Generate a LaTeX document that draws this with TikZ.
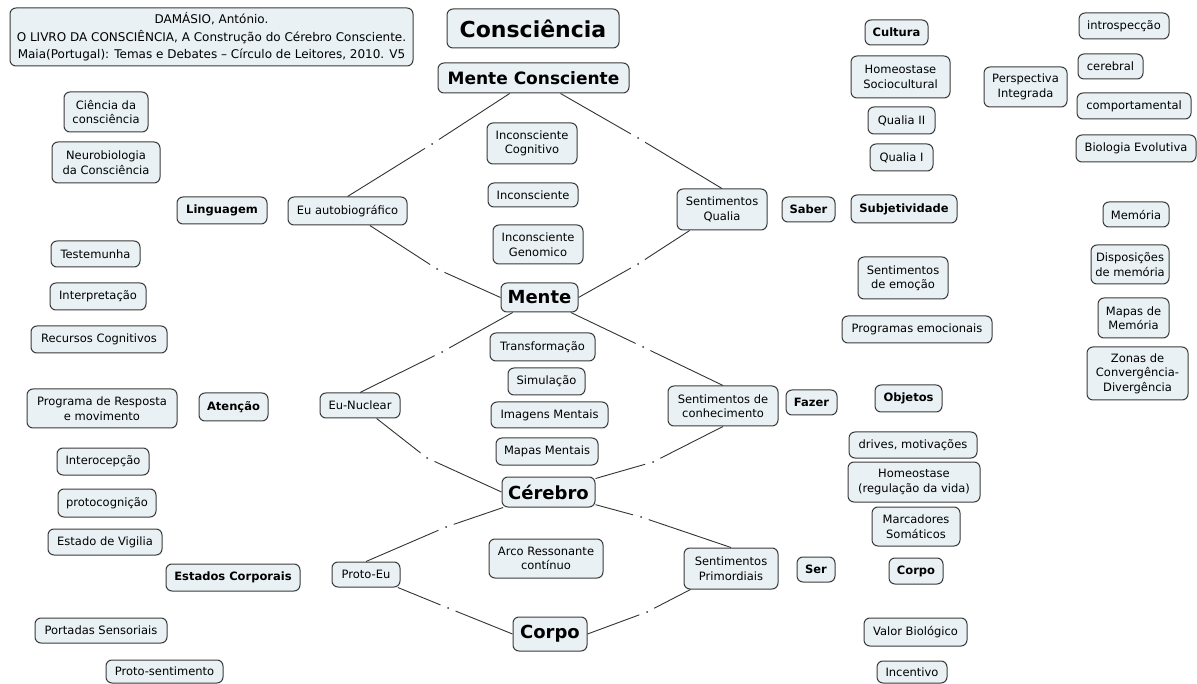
\documentclass[tikz,border=0pt]{standalone}
\usepackage{fontspec}
\setmainfont{DejaVu Sans}
\definecolor{boxfill}{HTML}{E9F1F5}
\definecolor{boxline}{HTML}{3A3A3A}
\definecolor{linecol}{HTML}{333333}
\tikzset{
  cbox/.style={draw=boxline, line width=1pt, fill=boxfill, rounded corners=6pt,
    inner sep=2pt, align=center, font=\fontsize{11.5}{14.5}\selectfont},
  bbox/.style={cbox, font=\fontsize{11.5}{14.5}\selectfont\bfseries},
  bigbox/.style={cbox, font=\fontsize{18}{20}\selectfont\bfseries},
  linkdot/.style={circle, inner sep=0pt, minimum size=16pt,
    path picture={\fill[linecol] (path picture bounding box.center) circle (1pt);}},
  conn/.style={draw=linecol, line width=0.9pt}
}
\begin{document}
\begin{tikzpicture}[x=1pt,y=-1pt]
\useasboundingbox (0,0) rectangle (1197,684);
\fill[white] (0,0) rectangle (1197,684);

% reference and title
\node[cbox, minimum width=403pt, minimum height=58pt, font=\fontsize{12}{17.5}\selectfont] (ref) at (211.5,37)
  {DAMÁSIO, António.\\O LIVRO DA CONSCIÊNCIA, A Construção do Cérebro Consciente.\\Maia(Portugal): Temas e Debates – Círculo de Leitores, 2010. V5};
\node[cbox, minimum width=172pt, minimum height=39pt, font=\fontsize{22}{24}\selectfont\bfseries] (consc) at (533,28.5) {Consciência};

% central column
\node[bigbox, minimum width=191pt, minimum height=30pt, font=\fontsize{17}{19}\selectfont\bfseries] (mc) at (533.5,78) {Mente Consciente};
\node[cbox, minimum width=90pt, minimum height=41pt] (incog) at (532,143.5) {Inconsciente\\Cognitivo};
\node[cbox, minimum width=90pt, minimum height=24pt] (incon) at (533,195) {Inconsciente};
\node[cbox, minimum width=90pt, minimum height=39pt] (ingen) at (538,244.5) {Inconsciente\\Genomico};
\node[bigbox, minimum width=77pt, minimum height=29pt] (mente) at (539.5,297.5) {Mente};
\node[cbox, minimum width=105pt, minimum height=28pt] (transf) at (542.5,347) {Transformação};
\node[cbox, minimum width=77pt, minimum height=27pt] (simul) at (546.5,381.5) {Simulação};
\node[cbox, minimum width=117pt, minimum height=26pt] (imgm) at (549.5,415) {Imagens Mentais};
\node[cbox, minimum width=102pt, minimum height=27pt] (mapm) at (547,451.5) {Mapas Mentais};
\node[bigbox, minimum width=93pt, minimum height=30pt] (cer) at (548.5,492) {Cérebro};
\node[cbox, minimum width=114pt, minimum height=39pt] (arco) at (546,558.5) {Arco Ressonante\\contínuo};
\node[bigbox, minimum width=74pt, minimum height=34pt] (corpo) at (550,634) {Corpo};

% selves and feelings
\node[cbox, minimum width=119pt, minimum height=28pt] (eua) at (347.5,211) {Eu autobiográfico};
\node[cbox, minimum width=80pt, minimum height=25pt] (eun) at (360,405.5) {Eu-Nuclear};
\node[cbox, minimum width=68pt, minimum height=25pt] (peu) at (366,574.5) {Proto-Eu};
\node[cbox, minimum width=90pt, minimum height=41pt] (sq) at (722,209.5) {Sentimentos\\Qualia};
\node[cbox, minimum width=110pt, minimum height=40pt] (sc) at (723,406) {Sentimentos de\\conhecimento};
\node[cbox, minimum width=94pt, minimum height=41pt] (sp) at (731,568.5) {Sentimentos\\Primordiais};

% left column
\node[cbox, minimum width=84pt, minimum height=40pt] (ciencia) at (106,112) {Ciência da\\consciência};
\node[cbox, minimum width=108pt, minimum height=41pt] (neuro) at (106,162.5) {Neurobiologia\\da Consciência};
\node[bbox, minimum width=90pt, minimum height=27pt] (ling) at (222,210.5) {Linguagem};
\node[cbox, minimum width=89pt, minimum height=26pt] (testem) at (95.5,254) {Testemunha};
\node[cbox, minimum width=96pt, minimum height=27pt] (interp) at (98,296.5) {Interpretação};
\node[cbox, minimum width=136pt, minimum height=27pt] (recog) at (99,339.5) {Recursos Cognitivos};
\node[cbox, minimum width=150pt, minimum height=39pt] (progr) at (102,408.5) {Programa de Resposta\\e movimento};
\node[bbox, minimum width=69pt, minimum height=28pt] (atencao) at (233.5,407) {Atenção};
\node[cbox, minimum width=92pt, minimum height=27pt] (intero) at (103,461.5) {Interocepção};
\node[cbox, minimum width=98pt, minimum height=28pt] (protocog) at (107,503) {protocognição};
\node[cbox, minimum width=114pt, minimum height=26pt] (vigil) at (105,542) {Estado de Vigilia};
\node[bbox, minimum width=134pt, minimum height=27pt] (estcorp) at (233,577.5) {Estados Corporais};
\node[cbox, minimum width=132pt, minimum height=25pt] (portadas) at (101,630.5) {Portadas Sensoriais};
\node[cbox, minimum width=117pt, minimum height=23pt] (protosent) at (164.5,671.5) {Proto-sentimento};

% right-centre column
\node[bbox, minimum width=63pt, minimum height=25pt] (cultura) at (896.5,32.5) {Cultura};
\node[cbox, minimum width=99pt, minimum height=42pt] (homeosoc) at (900.5,77) {Homeostase\\Sociocultural};
\node[cbox, minimum width=67pt, minimum height=27pt] (qualia2) at (901.5,120.5) {Qualia II};
\node[cbox, minimum width=63pt, minimum height=27pt] (qualia1) at (901.5,157.5) {Qualia I};
\node[bbox, minimum width=53pt, minimum height=25pt] (saber) at (808.5,209.5) {Saber};
\node[bbox, minimum width=106pt, minimum height=28pt] (subj) at (904,209) {Subjetividade};
\node[cbox, minimum width=90pt, minimum height=42pt] (sentemo) at (903,278) {Sentimentos\\de emoção};
\node[cbox, minimum width=150pt, minimum height=27pt] (progemo) at (917,329.5) {Programas emocionais};
\node[bbox, minimum width=51pt, minimum height=25pt] (fazer) at (811.5,402.5) {Fazer};
\node[bbox, minimum width=67pt, minimum height=27pt] (objetos) at (908.5,398.5) {Objetos};
\node[cbox, minimum width=128pt, minimum height=26pt] (drives) at (913,445) {drives, motivações};
\node[cbox, minimum width=132pt, minimum height=40pt] (homeo) at (914,482) {Homeostase\\(regulação da vida)};
\node[cbox, minimum width=88pt, minimum height=39pt] (marc) at (916,526.5) {Marcadores\\Somáticos};
\node[bbox, minimum width=38pt, minimum height=25pt] (ser) at (816,569.5) {Ser};
\node[bbox, minimum width=54pt, minimum height=26pt] (corpoR) at (916,571) {Corpo};
\node[cbox, minimum width=103pt, minimum height=28pt] (valor) at (915.5,632) {Valor Biológico};
\node[cbox, minimum width=70pt, minimum height=22pt] (incent) at (912,672) {Incentivo};

% far right column
\node[cbox, minimum width=83pt, minimum height=40pt] (pint) at (1025.5,87) {Perspectiva\\Integrada};
\node[cbox, minimum width=90pt, minimum height=26pt] (intro) at (1124,26) {introspecção};
\node[cbox, minimum width=65pt, minimum height=25pt] (cereb) at (1110.5,66.5) {cerebral};
\node[cbox, minimum width=114pt, minimum height=26pt] (comport) at (1134,106) {comportamental};
\node[cbox, minimum width=120pt, minimum height=27pt] (bioevo) at (1136,148.5) {Biologia Evolutiva};
\node[cbox, minimum width=66pt, minimum height=25pt] (memoria) at (1136,214.5) {Memória};
\node[cbox, minimum width=78pt, minimum height=39pt] (disp) at (1130,264.5) {Disposições\\de memória};
\node[cbox, minimum width=71pt, minimum height=40pt] (mapasmem) at (1133.5,318) {Mapas de\\Memória};
\node[cbox, minimum width=101pt, minimum height=53pt] (zonas) at (1137.5,373.5) {Zonas de\\Convergência-\\Divergência};

% linking points
\node[linkdot] (l1) at (432,144) {};
\node[linkdot] (l2) at (638,138) {};
\node[linkdot] (l3) at (437,269) {};
\node[linkdot] (l4) at (638,264) {};
\node[linkdot] (l5) at (442,352) {};
\node[linkdot] (l6) at (643,347) {};
\node[linkdot] (l7) at (427,458) {};
\node[linkdot] (l8) at (653,462) {};
\node[linkdot] (l9) at (446,527) {};
\node[linkdot] (l10) at (641,517) {};
\node[linkdot] (l11) at (448,608) {};
\node[linkdot] (l12) at (647,612) {};

% connectors
\draw[conn] (mc) -- (l1);        \draw[conn] (l1) -- (eua.north);
\draw[conn] (mc) -- (l2);        \draw[conn] (l2) -- (sq.north);
\draw[conn] (eua) -- (l3);       \draw[conn] (l3) -- (mente.west);
\draw[conn] (mente.east) -- (l4);\draw[conn] (l4) -- (sq);
\draw[conn] (mente) -- (l5);     \draw[conn] (l5) -- (eun.north);
\draw[conn] (mente) -- (l6);     \draw[conn] (l6) -- (sc.north);
\draw[conn] (eun) -- (l7);       \draw[conn] (l7) -- (cer.west);
\draw[conn] (sc.south) -- (l8);  \draw[conn] (l8) -- (cer);
\draw[conn] (cer) -- (l9);       \draw[conn] (l9) -- (peu.north);
\draw[conn] (cer) -- (l10);      \draw[conn] (l10) -- (sp.north);
\draw[conn] (peu) -- (l11);      \draw[conn] (l11) -- (corpo.west);
\draw[conn] (corpo.east) -- (l12);\draw[conn] (l12) -- (sp);
\end{tikzpicture}
\end{document}
